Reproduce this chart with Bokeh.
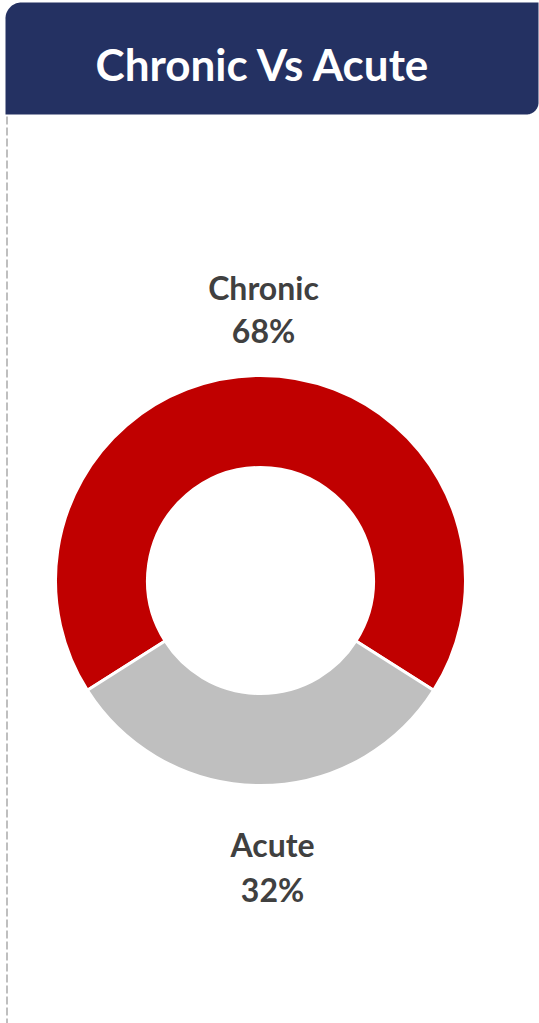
import numpy as np
from bokeh.plotting import figure
from bokeh.models import Range1d, ColumnDataSource
from bokeh.core.properties import value
from bokeh.embed import file_html
from bokeh.resources import INLINE

# ---- data ----
categories = ["Chronic", "Acute"]
values = [68, 32]
colors = ["#C00000", "#BFBFBF"]
title_text = "Chronic Vs Acute"

W, H = 539, 1023
p = figure(width=W, height=H, output_backend="svg", toolbar_location=None,
           x_range=Range1d(0, W), y_range=Range1d(-H, 0),
           min_border=0)
p.axis.visible = False
p.grid.visible = False
p.outline_line_color = None
p.background_fill_color = "white"
p.border_fill_color = "white"

# ---- header band (rounded top-left and bottom-right) ----
def rounded_header(x0, x1, y0, y1, r_tl, r_br, n=20):
    xs, ys = [], []
    t = np.linspace(np.pi, 1.5 * np.pi, n)
    xs += list(x0 + r_tl + r_tl * np.cos(t))
    ys += list(y0 + r_tl + r_tl * np.sin(t))
    xs += [x1]; ys += [y0]
    t = np.linspace(0, 0.5 * np.pi, n)
    xs += list(x1 - r_br + r_br * np.cos(t))
    ys += list(y1 - r_br + r_br * np.sin(t))
    xs += [x0]; ys += [y1]
    return xs, [-y for y in ys]

hx, hy = rounded_header(5, 538, 2, 114, 16, 12)
p.patch(hx, hy, fill_color="#243162", line_color=None)
p.text(x=[263], y=[-63], text=[title_text], text_color="white",
       text_font=value("Lato"), text_font_style="bold", text_font_size="44px",
       text_align="center", text_baseline="middle")

# ---- dashed left border ----
p.line(x=[6.5, 6.5], y=[-116, -1023], line_color="#BFBFBF", line_width=2, line_dash="8 3")

# ---- donut ----
vals = np.array(values, dtype=float)
frac = vals / vals.sum()
# Chronic centered at top, slices run clockwise
start0 = np.pi / 2 + frac[0] * np.pi
ends = start0 - np.cumsum(frac) * 2 * np.pi
starts = np.concatenate([[start0], ends[:-1]])
src = ColumnDataSource(dict(cat=categories, start=ends, end=starts, color=colors))
p.annular_wedge(x=260, y=-580, inner_radius=113, outer_radius=205,
                start_angle="start", end_angle="end", color="color",
                line_color="white", line_width=3, source=src)

# ---- labels ----
lab_x = [263, 272]
name_y = [-287, -844]
pct_y = [-330, -889]
pct = [f"{round(f * 100)}%" for f in frac]
p.text(x=lab_x, y=name_y, text=categories, text_color="#404040",
       text_font=value("Lato"), text_font_style="bold", text_font_size="32px",
       text_align="center", text_baseline="middle")
p.text(x=lab_x, y=pct_y, text=pct, text_color="#404040",
       text_font=value("Lato"), text_font_style="bold", text_font_size="32px",
       text_align="center", text_baseline="middle")

open("out.html", "w").write(file_html(p, INLINE))
